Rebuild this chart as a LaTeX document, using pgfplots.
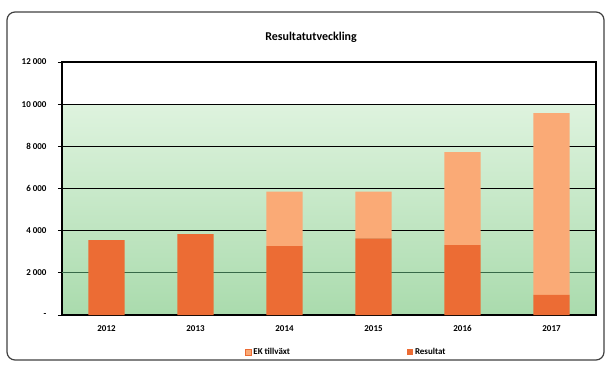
\documentclass[border=0pt]{standalone}
\usepackage{pgfplots}
\pgfplotsset{compat=1.18}
\usepackage{fontspec}
\setmainfont{Carlito}
\definecolor{resc}{RGB}{236,108,52}
\definecolor{ekc}{RGB}{250,170,118}
\definecolor{gtop}{RGB}{222,243,222}
\definecolor{gbot}{RGB}{170,219,173}
\definecolor{dgreen}{RGB}{55,105,72}
\pgfdeclareverticalshading{bgshade}{100bp}{color(0bp)=(gbot); color(25bp)=(gbot); color(66.6bp)=(gtop); color(66.7bp)=(white); color(100bp)=(white)}
\begin{document}
\begin{tikzpicture}
\useasboundingbox (0,0) rectangle (608bp,367bp);
\draw[line width=1.2pt, black!75, rounded corners=8bp] (7bp,7bp) rectangle (604bp,355bp);
\node[font=\fontsize{12}{14}\selectfont\bfseries] at (311bp,330bp) {Resultatutveckling};
\begin{axis}[
  at={(62bp,52bp)}, anchor=south west,
  scale only axis, width=534bp, height=253bp,
  clip=false,
  ybar stacked, bar width=36bp,
  xmin=-0.5, xmax=5.5, ymin=0, ymax=12000,
  scaled y ticks=false,
  axis background/.style={shading=bgshade},
  xtick={0,1,2,3,4,5},
  xticklabels={2012,2013,2014,2015,2016,2017},
  major x tick style={draw=none},
  extra x ticks={0.5,1.5,2.5,3.5,4.5},
  extra x tick labels={},
  extra x tick style={major tick length=4bp, tick style={black, line width=0.8pt}, tick align=outside, grid=none},
  ytick={0,4000,6000,8000,10000,12000},
  yticklabels={-,4 000,6 000,8 000,10 000,12 000},
  extra y ticks={2000},
  extra y tick labels={2 000},
  extra y tick style={major grid style={dgreen, line width=1.3pt}},
  ymajorgrids,
  major grid style={black, line width=1.3pt},
  tick align=outside, major tick length=4bp,
  tick style={black, line width=0.8pt},
  ytick pos=left, xtick pos=bottom,
  axis line style={black, line width=1.3pt},
  yticklabel style={xshift=-8bp},
  xticklabel style={yshift=-3bp},
  every tick label/.append style={font=\fontsize{9}{10}\selectfont\bfseries},
  legend columns=2,
  reverse legend,
  legend style={at={(0.532,-0.146)}, anchor=center, draw=none, fill=none,
    font=\fontsize{9}{10}\selectfont\bfseries,
    /tikz/every even column/.append style={column sep=115bp}},
]
\addplot[fill=resc, draw=none,
  legend image code/.code={\fill[resc] (0bp,-3bp) rectangle (6bp,3bp);}]
  coordinates {(0,3550) (1,3840) (2,3270) (3,3640) (4,3320) (5,950)};
\addlegendentry{Resultat}
\addplot[fill=ekc, draw=none,
  legend image code/.code={\draw[fill=ekc, draw=resc, line width=0.8pt] (0bp,-3bp) rectangle (6bp,3bp);}]
  coordinates {(0,0) (1,0) (2,2580) (3,2210) (4,4410) (5,8630)};
\addlegendentry{EK tillväxt}
\draw[black, line width=1.3pt] (rel axis cs:1,0) -- (rel axis cs:1,1);
\end{axis}
\end{tikzpicture}
\end{document}
